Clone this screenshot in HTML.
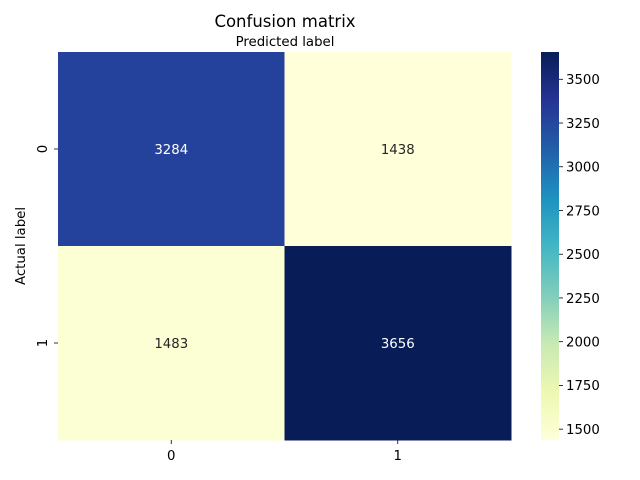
<!DOCTYPE html>
<html><head><meta charset="utf-8"><style>
html,body{margin:0;padding:0;background:#fff}
svg{display:block;font-family:"DejaVu Sans","Liberation Sans",sans-serif}
</style></head><body>
<svg id="chart" width="640" height="480" viewBox="0 0 640 480">
<text x="285" y="27" text-anchor="middle" font-size="16.5" fill="#000">Confusion matrix</text>
<text x="285" y="46" text-anchor="middle" font-size="13.3" fill="#000">Predicted label</text>
<text x="25" y="246" text-anchor="middle" font-size="13.3" fill="#000" transform="rotate(-90 25 246)">Actual label</text>
<g id="cells"></g>
<g id="cbar"></g>
</svg>
<script>
const rowLabels=["0","1"];
const colLabels=["0","1"];
const values=[[3284,1438],[1483,3656]];
const cbarTicks=[1500,1750,2000,2250,2500,2750,3000,3250,3500];
const stops=["#ffffd9","#edf8b1","#c7e9b4","#7fcdbb","#41b6c4","#1d91c0","#225ea8","#253494","#081d58"];
const NS="http://www.w3.org/2000/svg";
const X0=58,X1=511,Y0=52,Y1=440,CB0=541,CB1=559;
const flat=values.flat();const vmin=Math.min(...flat),vmax=Math.max(...flat);
function hex(h){return[1,3,5].map(i=>parseInt(h.substr(i,2),16));}
function cmap(t){t=Math.max(0,Math.min(1,t));const p=t*(stops.length-1);const i=Math.min(Math.floor(p),stops.length-2);const f=p-i;const a=hex(stops[i]),b=hex(stops[i+1]);return "rgb("+a.map((v,k)=>Math.round(v+(b[k]-v)*f)).join(",")+")";}
function xs(j){return X0+(X1-X0)*j/colLabels.length;}
function ys(i){return Y0+(Y1-Y0)*i/rowLabels.length;}
function cy(v){return Y1-(v-vmin)/(vmax-vmin)*(Y1-Y0);}
function mk(tag,attrs,parent){const e=document.createElementNS(NS,tag);for(const k in attrs)e.setAttribute(k,attrs[k]);parent.appendChild(e);return e;}
const cells=document.getElementById('cells');
const cw=(X1-X0)/colLabels.length,ch=(Y1-Y0)/rowLabels.length;
values.forEach((row,i)=>row.forEach((v,j)=>{
 const t=(v-vmin)/(vmax-vmin);
 const r=mk('rect',{x:xs(j),y:ys(i),width:cw+0.5,height:ch+0.5,fill:cmap(t)},cells);
 
 
 const tx=mk('text',{x:xs(j)+cw/2,y:ys(i)+ch/2+4.8,'text-anchor':'middle','font-size':'13.3',fill:t>0.5?'#fff':'#262626'},cells);
 tx.textContent=v;
 
 
}));
colLabels.forEach((l,j)=>{
 const x=xs(j)+cw/2;
 mk('line',{x1:x,x2:x,y1:Y1,y2:Y1+4,stroke:'#000','stroke-width':0.8},cells);
 const t=mk('text',{x:x,y:Y1+20,'text-anchor':'middle','font-size':'13.3'},cells);t.textContent=l;
 
 
});
rowLabels.forEach((l,i)=>{
 const y=ys(i)+ch/2;
 mk('line',{x1:X0-4,x2:X0,y1:y,y2:y,stroke:'#000','stroke-width':0.8},cells);
 const t=mk('text',{x:X0-11,y:y,'text-anchor':'middle','font-size':'13.3',transform:'rotate(-90 '+(X0-11)+' '+y+')'},cells);t.textContent=l;
 
 
});
const cb=document.getElementById('cbar');
const defs=mk('defs',{},cb);
const g=mk('linearGradient',{id:'grad',x1:0,y1:1,x2:0,y2:0},defs);
stops.forEach((s,k)=>mk('stop',{offset:k/(stops.length-1),'stop-color':s},g));
const cr=mk('rect',{x:CB0,y:Y0,width:CB1-CB0,height:Y1-Y0,fill:'url(#grad)'},cb);


cbarTicks.forEach(v=>{
 const y=cy(v);
 mk('line',{x1:CB1,x2:CB1+4,y1:y,y2:y,stroke:'#000','stroke-width':0.8},cb);
 const t=mk('text',{x:CB1+7,y:y+4.8,'font-size':'13.3'},cb);t.textContent=v;
 
 
});
</script>
</body></html>
